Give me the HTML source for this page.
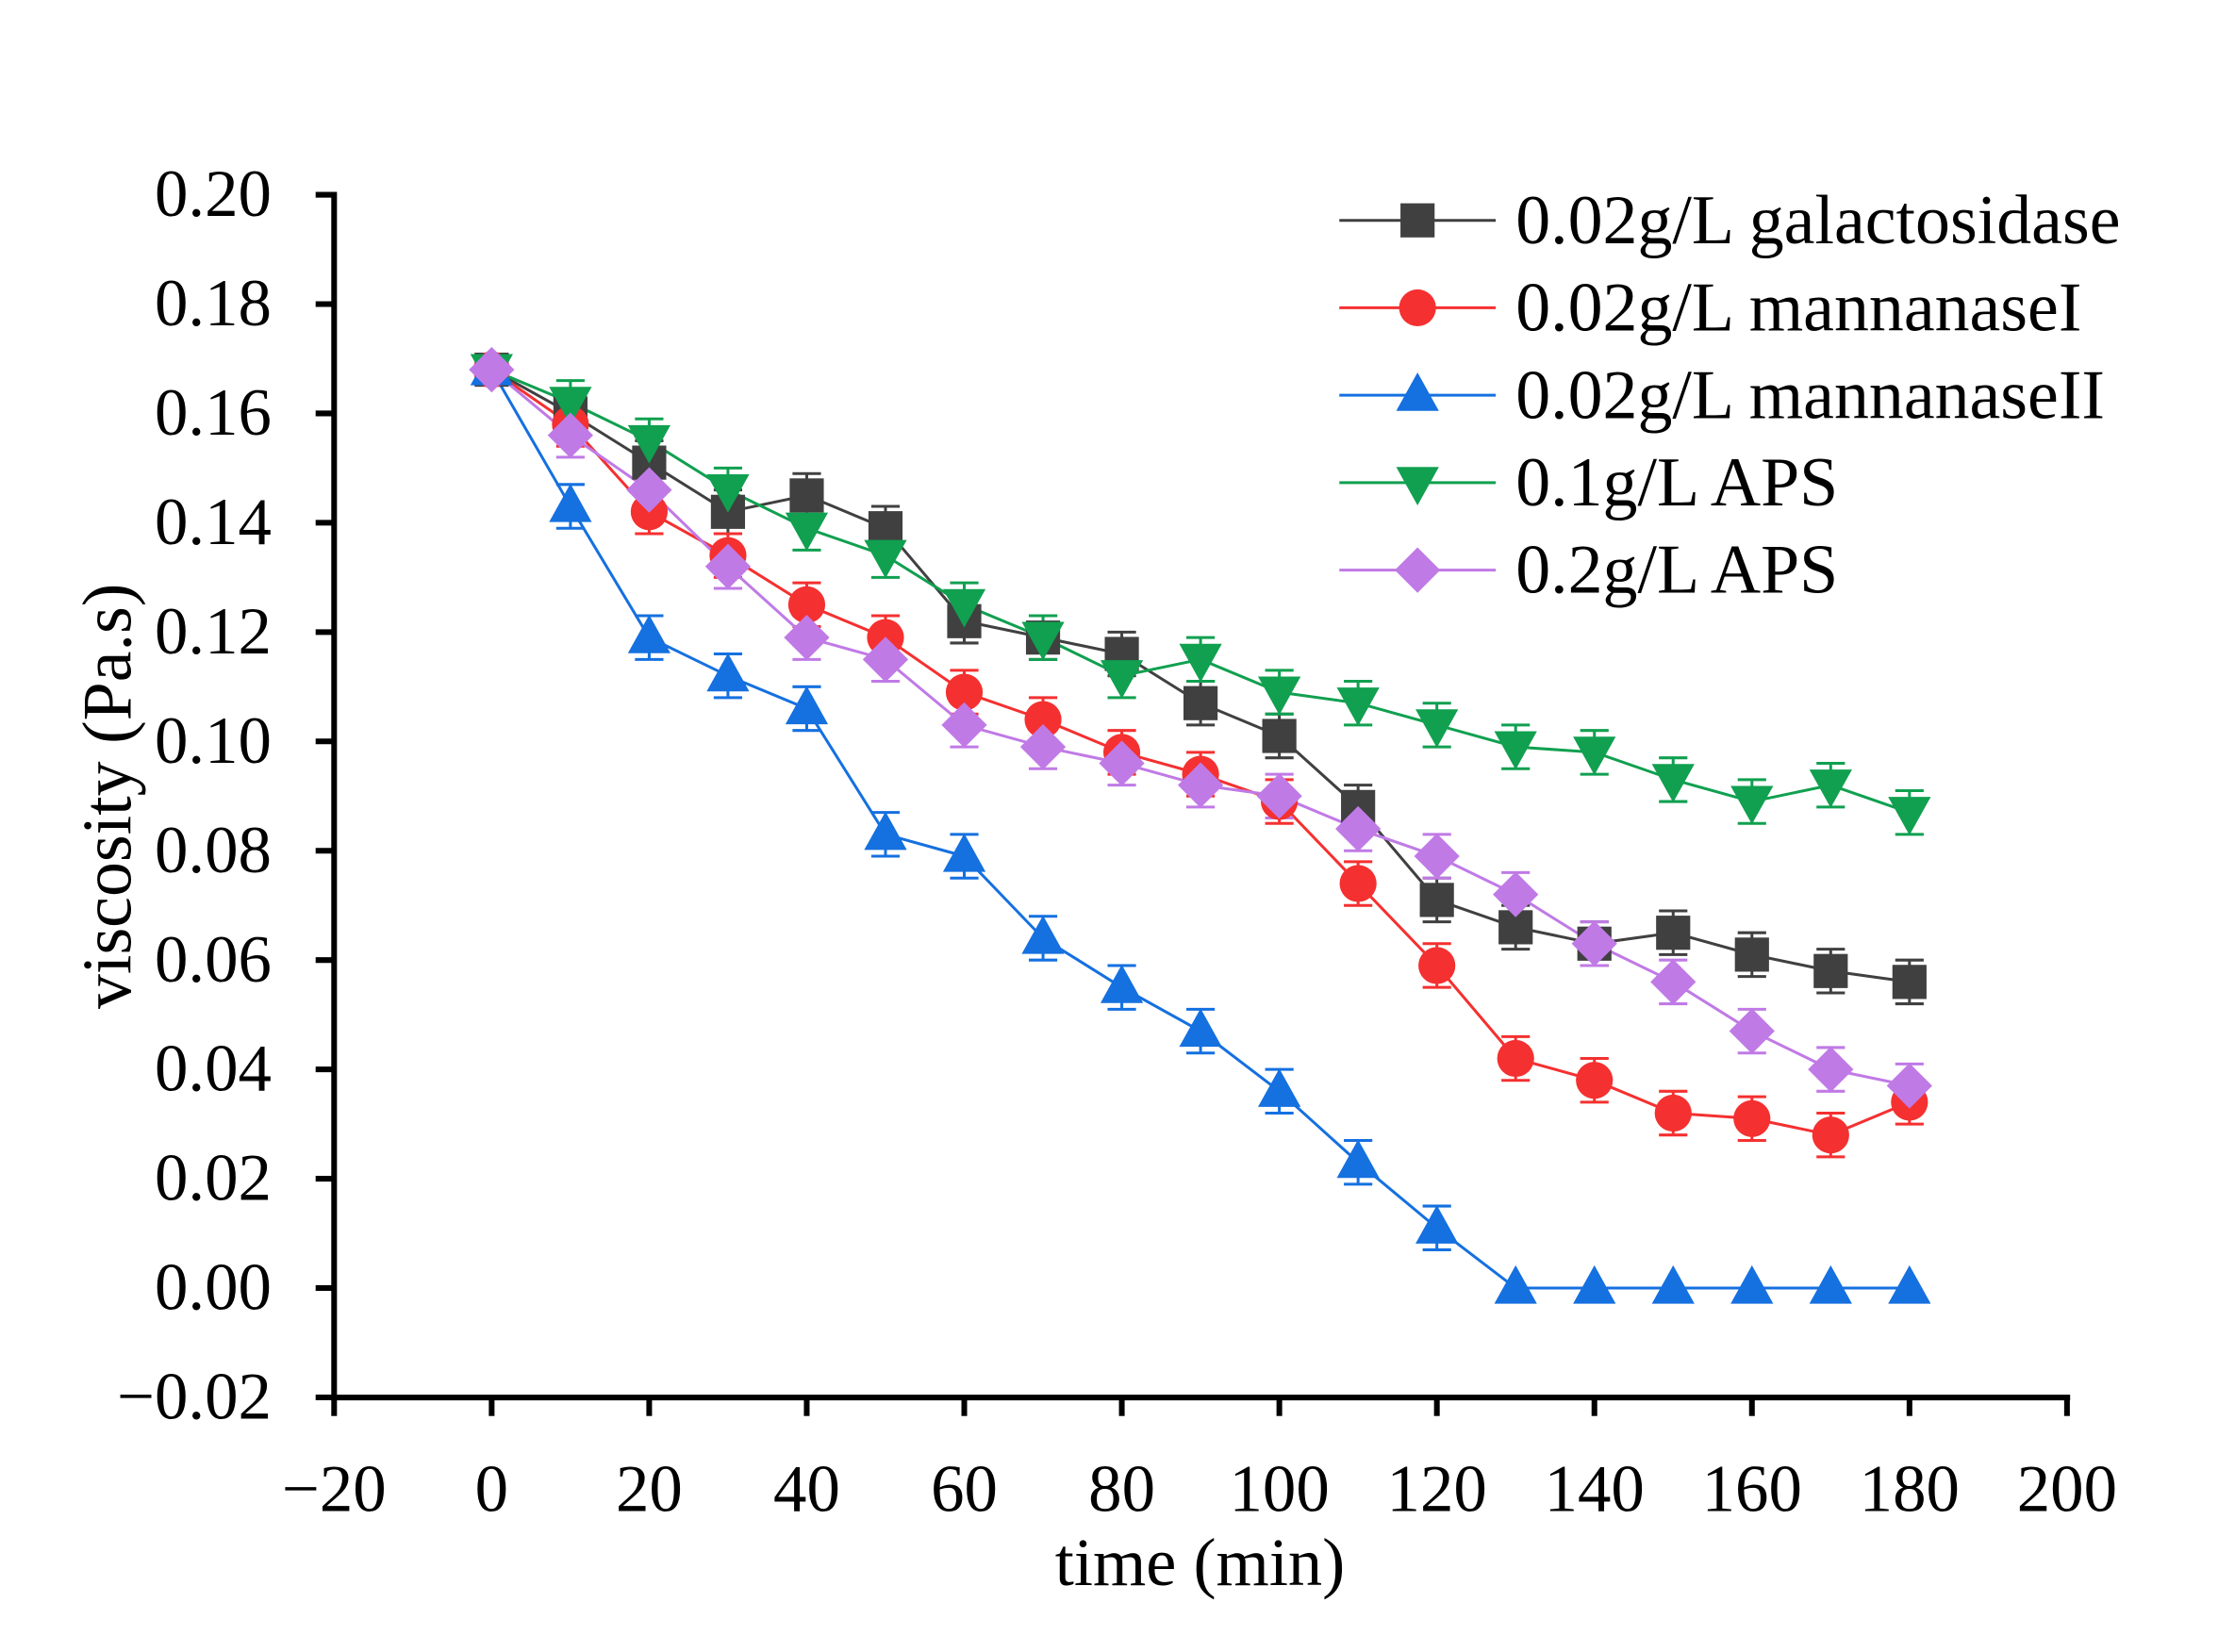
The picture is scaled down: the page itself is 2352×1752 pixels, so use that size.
<!DOCTYPE html>
<html><head><style>html,body{margin:0;padding:0;background:#fff}svg{display:block}</style></head>
<body>
<svg id="s" width="2352" height="1752" viewBox="0 0 1560 1162" preserveAspectRatio="none" xmlns="http://www.w3.org/2000/svg" font-family="'Liberation Serif',serif">
<rect width="1560" height="1162" fill="#fff"/>
<g id="plot"></g>
<g stroke="#000" stroke-width="4" fill="none">
<line x1="235" y1="135" x2="235" y2="985"/>
<line x1="233" y1="983" x2="1456" y2="983"/>
</g>
<g id="ticks"></g>
<text x="844" y="1115" font-size="48" text-anchor="middle">time (min)</text>
<text transform="translate(92,560) rotate(-90)" font-size="49" text-anchor="middle">viscosity (Pa.s)</text>
<g id="legend"></g>
</svg>
<script>
const X=t=>345.8+t*5.54, Y=v=>906-v*3845;
const ns="http://www.w3.org/2000/svg";
function el(p,n,a,txt){const e=document.createElementNS(ns,n);for(const k in a)e.setAttribute(k,a[k]);if(txt!==undefined)e.textContent=txt;p.appendChild(e);return e;}
const tk=document.getElementById('ticks');
for(let i=0;i<=11;i++){const v=-0.02+i*0.02;const y=Y(v);el(tk,'line',{x1:222,x2:235,y1:y,y2:y,stroke:'#000','stroke-width':4});
el(tk,'text',{x:191,y:y+15,'font-size':47,'text-anchor':'end'},(v<-0.001?'\u22120.02':v.toFixed(2)));}
for(let i=0;i<=11;i++){const t=-20+i*20;const x=X(t);el(tk,'line',{x1:x,x2:x,y1:983,y2:996,stroke:'#000','stroke-width':4});
el(tk,'text',{x:x,y:1063,'font-size':47,'text-anchor':'middle'},t<0?'\u221220':String(t));}
const S=[
{c:'#404040',m:'sq',n:'0.02g/L galactosidase',d:[.168,.160,.151,.142,.145,.139,.122,.119,.116,.107,.101,.088,.071,.066,.063,.065,.061,.058,.056]},
{c:'#f53030',m:'ci',n:'0.02g/L mannanaseI',d:[.168,.158,.142,.134,.125,.119,.109,.104,.098,.094,.089,.074,.059,.042,.038,.032,.031,.028,.034]},
{c:'#1570e0',m:'tu',n:'0.02g/L mannanaseII',d:[.168,.143,.119,.112,.106,.083,.079,.064,.055,.047,.036,.023,.011,0,0,0,0,0,0]},
{c:'#10a050',m:'td',n:'0.1g/L APS',d:[.168,.162,.155,.146,.139,.134,.125,.119,.112,.115,.109,.107,.103,.099,.098,.093,.089,.092,.087]},
{c:'#c07ae6',m:'di',n:'0.2g/L APS',d:[.168,.156,.146,.132,.119,.115,.103,.099,.096,.092,.090,.084,.079,.072,.063,.056,.047,.040,.037]}];
function mk(g,m,x,y,c){
 if(m=='sq')el(g,'rect',{x:x-12,y:y-12,width:24,height:24,fill:c});
 else if(m=='ci')el(g,'circle',{cx:x,cy:y,r:13,fill:c});
 else if(m=='tu')el(g,'polygon',{points:`${x},${y-16} ${x-15},${y+11} ${x+15},${y+11}`,fill:c});
 else if(m=='td')el(g,'polygon',{points:`${x},${y+16} ${x-15},${y-11} ${x+15},${y-11}`,fill:c});
 else el(g,'polygon',{points:`${x},${y-16} ${x+16},${y} ${x},${y+16} ${x-16},${y}`,fill:c});
}
const pl=document.getElementById('plot');
S.forEach(s=>{const pts=s.d.map((v,i)=>X(i*10)+','+Y(v)).join(' ');
 el(pl,'polyline',{points:pts,fill:'none',stroke:s.c,'stroke-width':2});
 s.d.forEach((v,i)=>{if(v>0&&i>0){const x=X(i*10),e=0.004*3845;el(pl,'path',{d:`M${x} ${Y(v)-e}V${Y(v)+e}M${x-10} ${Y(v)-e}H${x+10}M${x-10} ${Y(v)+e}H${x+10}`,stroke:s.c,'stroke-width':2,fill:'none'});}});
});
S.forEach(s=>s.d.forEach((v,i)=>mk(pl,s.m,X(i*10),Y(v),s.c)));
const lg=document.getElementById('legend');
S.forEach((s,i)=>{const y=155+i*61.5;el(lg,'line',{x1:942,x2:1052,y1:y,y2:y,stroke:s.c,'stroke-width':2});mk(lg,s.m,997,y,s.c);
 el(lg,'text',{x:1066,y:y+16,'font-size':49},s.n);});
</script>
</body></html>
